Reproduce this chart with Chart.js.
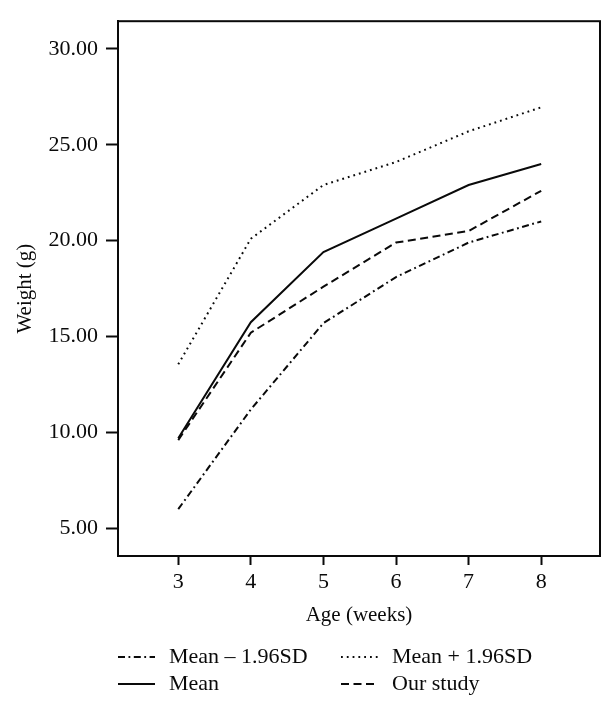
<!DOCTYPE html>
<html>
<head>
<meta charset="utf-8">
<script src="https://cdn.jsdelivr.net/npm/chart.js@4/dist/chart.umd.min.js"></script>
<style>
  html, body { margin: 0; padding: 0; background: #fff; }
  #wrap { width: 615px; height: 709px; }
</style>
</head>
<body>
<div id="wrap"><canvas id="c" width="615" height="709"></canvas></div>
<script>
// ---- data ----
const weeks = [3, 4, 5, 6, 7, 8];
const lowerSD = [6.0, 11.2, 15.7, 18.1, 19.9, 21.0];
const upperSD = [13.55, 20.1, 22.9, 24.1, 25.7, 26.95];
const meanW = [9.7, 15.75, 19.4, 21.15, 22.9, 24.0];
const ourStudy = [9.6, 15.2, 17.6, 19.9, 20.5, 22.6];
const seriesNames = ['Mean \u2013 1.96SD', 'Mean + 1.96SD', 'Mean', 'Our study'];
const xTicks = [3, 4, 5, 6, 7, 8];
const yTicks = [5, 10, 15, 20, 25, 30];
const yTickLabels = ['5.00', '10.00', '15.00', '20.00', '25.00', '30.00'];
const xTitle = 'Age (weeks)';
const yTitle = 'Weight (g)';

const FONT = "'Liberation Serif', 'Times New Roman', serif";
Chart.defaults.font.family = FONT;
Chart.defaults.font.size = 22;
Chart.defaults.color = '#0a0a0a';

const pts = arr => weeks.map((w, i) => ({ x: w, y: arr[i] }));

const styles = [
  { borderDash: [7, 3.5, 1.8, 3.5] },
  { borderDash: [1.8, 4] },
  { borderDash: [] },
  { borderDash: [8, 4.5] }
];

const datasets = [lowerSD, upperSD, meanW, ourStudy].map((arr, i) => ({
  label: seriesNames[i],
  data: pts(arr),
  borderColor: '#0a0a0a',
  borderWidth: 2,
  borderDash: styles[i].borderDash,
  pointRadius: 0,
  tension: 0,
  fill: false
}));

const boxPlugin = {
  id: 'box',
  afterDraw(chart) {
    const { ctx, chartArea: a } = chart;
    ctx.save();
    ctx.strokeStyle = '#0a0a0a';
    ctx.lineWidth = 2;
    ctx.strokeRect(a.left, a.top, a.right - a.left, a.bottom - a.top);
    ctx.restore();
  }
};

const legendPlugin = {
  id: 'customLegend',
  afterDraw(chart) {
    const { ctx } = chart;
    const cols = [{ x: 118, tx: 169 }, { x: 341, tx: 392 }];
    const rows = [657, 684];
    const sampleLen = 37;
    ctx.save();
    ctx.font = '22px ' + FONT;
    ctx.fillStyle = '#0a0a0a';
    ctx.textBaseline = 'middle';
    ctx.textAlign = 'left';
    chart.data.datasets.forEach((ds, i) => {
      const c = cols[i % 2], y = rows[Math.floor(i / 2)];
      ctx.strokeStyle = ds.borderColor;
      ctx.lineWidth = ds.borderWidth;
      ctx.setLineDash(ds.borderDash || []);
      ctx.beginPath();
      ctx.moveTo(c.x, y);
      ctx.lineTo(c.x + sampleLen, y);
      ctx.stroke();
      ctx.setLineDash([]);
      ctx.fillText(ds.label, c.tx, y);
    });
    ctx.restore();
  }
};

new Chart(document.getElementById('c'), {
  type: 'line',
  data: { datasets },
  plugins: [boxPlugin, legendPlugin],
  options: {
    responsive: false,
    animation: false,
    layout: { padding: { top: 14, right: 15, left: 0, bottom: 0 } },
    plugins: { legend: { display: false }, tooltip: { enabled: false } },
    scales: {
      x: {
        type: 'linear',
        min: 2.17,
        max: 8.81,
        afterFit(s) { s.height = 153; },
        afterBuildTicks(s) { s.ticks = xTicks.map(v => ({ value: v })); },
        ticks: { padding: 4, color: '#0a0a0a', callback: v => String(v), maxRotation: 0 },
        grid: { display: true, drawOnChartArea: false, drawTicks: true, tickLength: 9, tickColor: '#0a0a0a', tickWidth: 2 },
        border: { display: true, color: '#0a0a0a', width: 2 },
        title: { display: true, text: xTitle, color: '#0a0a0a', font: { size: 21 }, padding: { top: 0, bottom: 81 } }
      },
      y: {
        type: 'linear',
        min: 3.56,
        max: 31.44,
        afterFit(s) { s.width = 118; },
        afterBuildTicks(s) { s.ticks = yTicks.map(v => ({ value: v })); },
        ticks: { padding: 8, color: '#0a0a0a', callback: (v) => yTickLabels[yTicks.indexOf(v)] },
        grid: { display: true, drawOnChartArea: false, drawTicks: true, tickLength: 12, tickColor: '#0a0a0a', tickWidth: 2 },
        border: { display: true, color: '#0a0a0a', width: 2 },
        title: { display: true, text: yTitle, color: '#0a0a0a', font: { size: 21 }, padding: { top: 13, bottom: 0 } }
      }
    }
  }
});
</script>
</body>
</html>
